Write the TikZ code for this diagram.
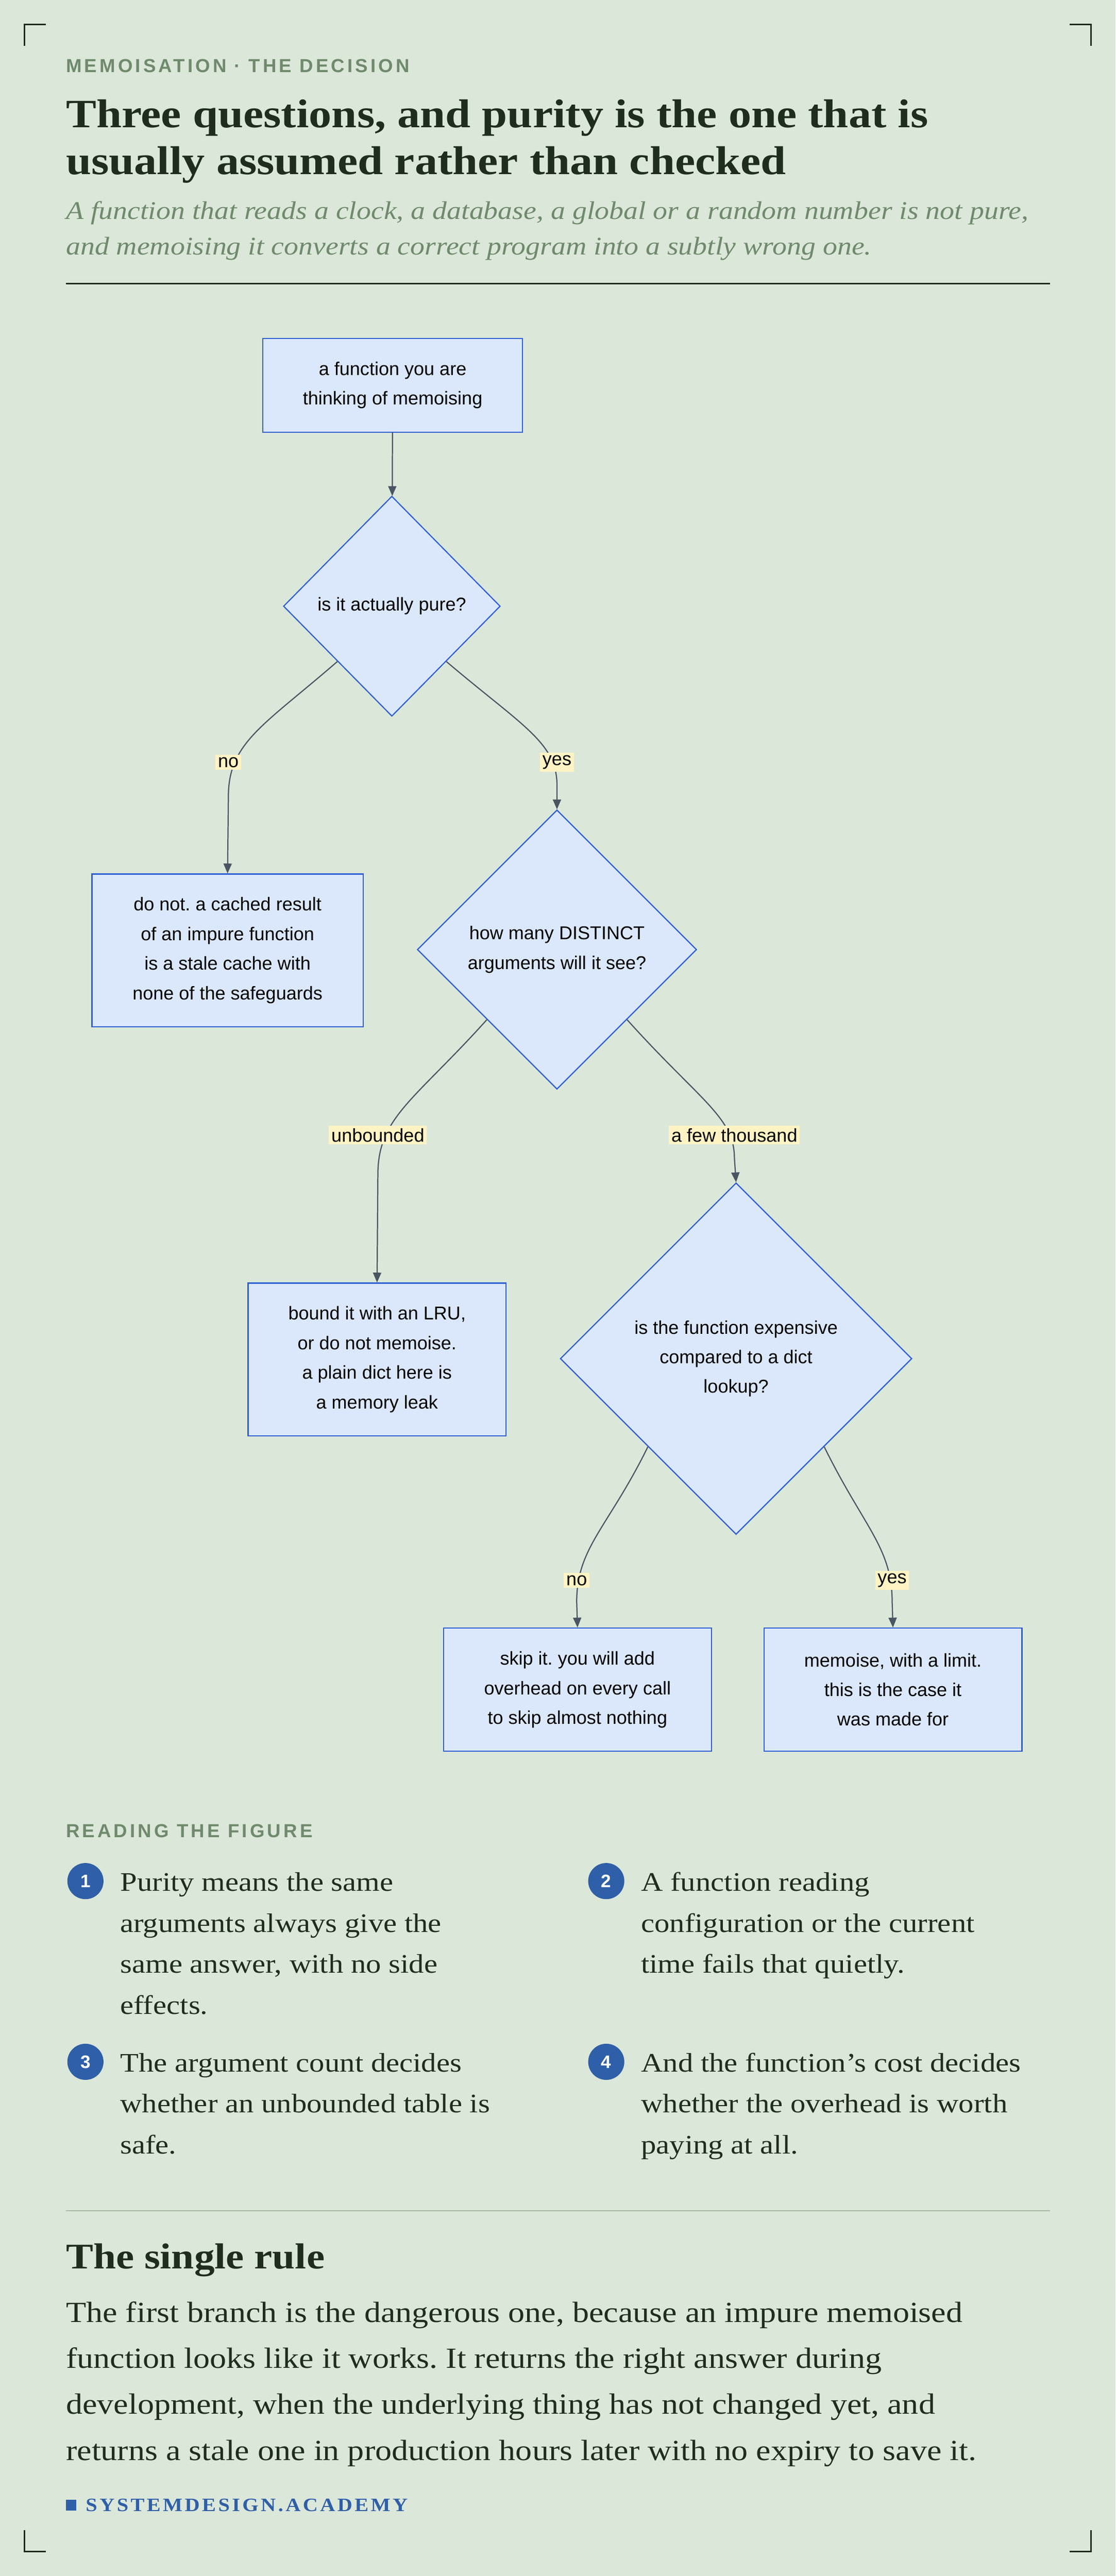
\documentclass[tikz,border=0pt]{standalone}
\usepackage{fontspec}
\setmainfont{Liberation Serif}[FakeStretch=1.13]
\newfontfamily\sans{Liberation Sans}
\newfontfamily\spaced{Liberation Sans}[LetterSpace=14]
\newfontfamily\spacedserif{Liberation Serif}[LetterSpace=12,FakeStretch=1.1]
\usetikzlibrary{shapes.geometric,arrows.meta}
\definecolor{bg}{HTML}{DBE7D9}
\definecolor{ink}{HTML}{1F2D1F}
\definecolor{muted}{HTML}{6F8A6C}
\definecolor{boxfill}{HTML}{DBE8FB}
\definecolor{boxline}{HTML}{2F5FD6}
\definecolor{edge}{HTML}{4A5563}
\definecolor{lab}{HTML}{FFF3C4}
\definecolor{brand}{HTML}{2F5FA8}
\frenchspacing
\begin{document}
\begin{tikzpicture}[x=1pt,y=-1pt,
  box/.style={draw=boxline,fill=boxfill,line width=0.7pt,font=\sans\fontsize{11.3}{18}\selectfont,align=center,inner sep=0pt},
  dia/.style={diamond,draw=boxline,fill=boxfill,line width=0.7pt,font=\sans\fontsize{11.3}{18}\selectfont,align=center,inner sep=0pt,aspect=1},
  arr/.style={draw=edge,line width=0.7pt,-{Triangle[length=6pt,width=5pt]}},
  lbl/.style={fill=lab,font=\sans\fontsize{11.3}{13}\selectfont,inner sep=1.5pt,text=black},
  txt/.style={anchor=base west,inner sep=0pt,text=ink},
  corner/.style={draw=ink,line width=0.9pt}]
\useasboundingbox (0,0) rectangle (679,1568);
\fill[bg] (0,0) rectangle (679,1568);
% corners
\draw[corner] (15,28) -- (15,15) -- (28,15);
\draw[corner] (651,15) -- (664,15) -- (664,28);
\draw[corner] (15,1540) -- (15,1553) -- (28,1553);
\draw[corner] (651,1553) -- (664,1553) -- (664,1540);
% header
\node[txt,text=muted,font=\spaced\bfseries\fontsize{11.5}{13}\selectfont] (kick) at (40,44) {MEMOISATION · THE DECISION};
\node[txt,font=\bfseries\fontsize{24.5}{29}\selectfont] (t1) at (40,77.5) {Three questions, and purity is the one that is};
\node[txt,font=\bfseries\fontsize{24.5}{29}\selectfont] (t2) at (40,106) {usually assumed rather than checked};
\node[txt,text=muted,font=\itshape\fontsize{15.5}{22}\selectfont] (s1) at (40,133.5) {A function that reads a clock, a database, a global or a random number is not pure,};
\node[txt,text=muted,font=\itshape\fontsize{15.5}{22}\selectfont] (s2) at (40,155) {and memoising it converts a correct program into a subtly wrong one.};
\draw[ink,line width=0.9pt] (40,172.5) -- (639,172.5);
% flowchart
\node[box,minimum width=158pt,minimum height=57pt] (start) at (239,234.5) {a function you are\\thinking of memoising};
\node[dia,minimum width=132pt,minimum height=134pt] (d1) at (238.5,369) {is it actually pure?};
\node[box,minimum width=165pt,minimum height=93pt] (impure) at (138.5,578.5) {do not. a cached result\\of an impure function\\is a stale cache with\\none of the safeguards};
\node[dia,minimum width=170pt,minimum height=170pt] (d2) at (339,578) {how many DISTINCT\\arguments will it see?};
\node[box,minimum width=157pt,minimum height=93pt] (lru) at (229.5,827.5) {bound it with an LRU,\\or do not memoise.\\a plain dict here is\\a memory leak};
\node[dia,minimum width=214pt,minimum height=214pt] (d3) at (448,827) {is the function expensive\\compared to a dict\\lookup?};
\node[box,minimum width=163pt,minimum height=75pt] (skip) at (351.5,1028.5) {skip it. you will add\\overhead on every call\\to skip almost nothing};
\node[box,minimum width=157pt,minimum height=75pt] (memo) at (543.5,1028.5) {memoise, with a limit.\\this is the case it\\was made for};
\draw[arr] (start) -- (d1);
\draw[arr] (d1.south west) .. controls (160,442) and (139,452) .. (139,485) -- (impure.north);
\draw[arr] (d1.south east) .. controls (318,442) and (339,452) .. (339,478) -- (d2.north);
\draw[arr] (d2.south west) .. controls (252,670) and (230,680) .. (230,715) -- (lru.north);
\draw[arr] (d2.south east) .. controls (426,670) and (447,680) .. (447,705) -- (d3.north);
\draw[arr] (d3.south west) .. controls (370,930) and (351,942) .. (351,975) -- (skip.north);
\draw[arr] (d3.south east) .. controls (526,930) and (543,942) .. (543,975) -- (memo.north);
\node[lbl] (lno1) at (139,464) {no};
\node[lbl] (lyes1) at (339,464) {yes};
\node[lbl] (lunb) at (230,691) {unbounded};
\node[lbl] (lfew) at (447,691) {a few thousand};
\node[lbl] (lno2) at (351,962) {no};
\node[lbl] (lyes2) at (543,962) {yes};
% reading the figure
\node[txt,text=muted,font=\spaced\bfseries\fontsize{11.5}{13}\selectfont] (rf) at (40,1118.5) {READING THE FIGURE};
\tikzset{num/.style={circle,fill=brand,text=white,font=\sans\bfseries\fontsize{11}{12}\selectfont,minimum size=22pt,inner sep=0pt},
  item/.style={txt,font=\fontsize{16.3}{25}\selectfont}}
\node[num] (n1) at (52,1145) {1};
\node[item] (i1a) at (73,1151) {Purity means the same};
\node[item] (i1b) at (73,1176) {arguments always give the};
\node[item] (i1c) at (73,1201) {same answer, with no side};
\node[item] (i1d) at (73,1226) {effects.};
\node[num] (n2) at (369,1145) {2};
\node[item] (i2a) at (390,1151) {A function reading};
\node[item] (i2b) at (390,1176) {configuration or the current};
\node[item] (i2c) at (390,1201) {time fails that quietly.};
\node[num] (n3) at (52,1255) {3};
\node[item] (i3a) at (73,1261) {The argument count decides};
\node[item] (i3b) at (73,1286) {whether an unbounded table is};
\node[item] (i3c) at (73,1311) {safe.};
\node[num] (n4) at (369,1255) {4};
\node[item] (i4a) at (390,1261) {And the function{\char"27}s cost decides};
\node[item] (i4b) at (390,1286) {whether the overhead is worth};
\node[item] (i4c) at (390,1311) {paying at all.};
\draw[muted!50!bg,line width=0.6pt] (40,1345.5) -- (639,1345.5);
% single rule
\node[txt,font=\bfseries\fontsize{22}{26}\selectfont] (sr) at (40,1381) {The single rule};
\tikzset{para/.style={txt,font=\fontsize{17.8}{28}\selectfont}}
\node[para] (p1) at (40,1413.5) {The first branch is the dangerous one, because an impure memoised};
\node[para] (p2) at (40,1441.5) {function looks like it works. It returns the right answer during};
\node[para] (p3) at (40,1469.5) {development, when the underlying thing has not changed yet, and};
\node[para] (p4) at (40,1497.5) {returns a stale one in production hours later with no expiry to save it.};
% footer
\fill[brand] (40,1521.5) rectangle (46.5,1528);
\node[txt,text=brand,font=\spacedserif\bfseries\fontsize{11.5}{13}\selectfont] (brandname) at (52,1528.5) {SYSTEMDESIGN.ACADEMY};
\end{tikzpicture}
\end{document}
